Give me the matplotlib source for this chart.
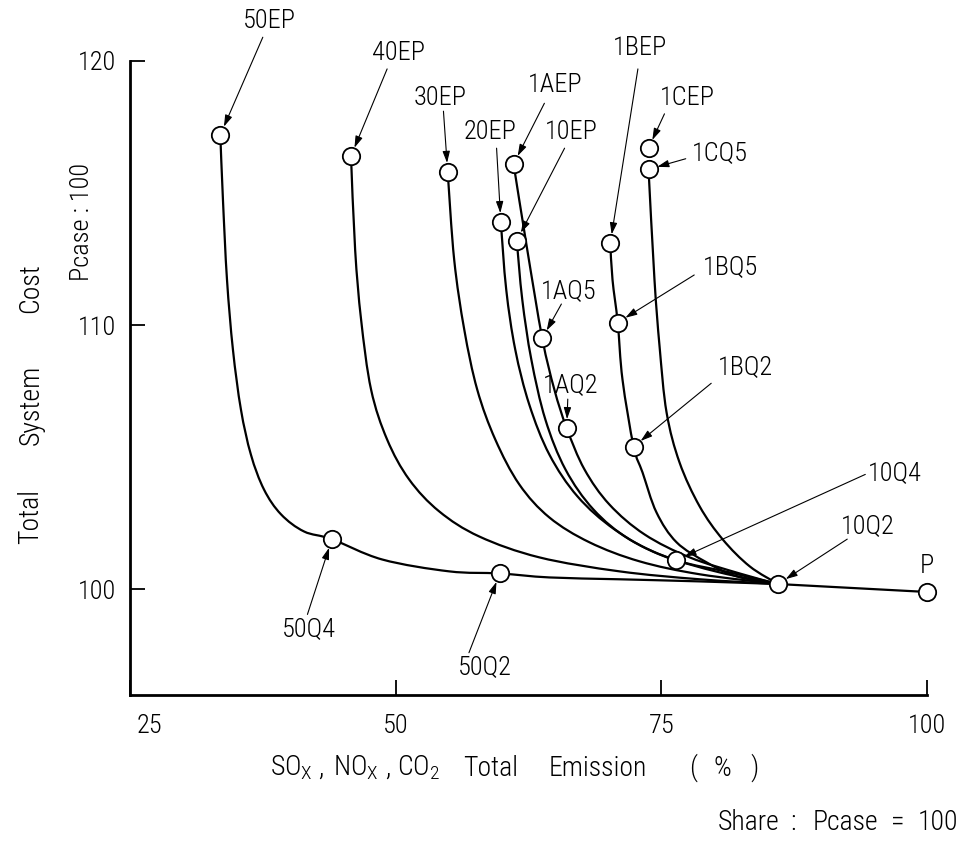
import matplotlib
matplotlib.use("Agg")
import matplotlib.pyplot as plt
from matplotlib import font_manager as fm
from matplotlib.path import Path
from matplotlib.patches import PathPatch
from matplotlib.transforms import ScaledTranslation


def pick_font():
    """Prefer a narrow sans; fall back to a condensed stretch of a common family."""
    entries = fm.fontManager.ttflist
    names = {e.name for e in entries}
    for fam in ["Liberation Sans Narrow", "Roboto Condensed", "Noto Sans Condensed",
                "Open Sans Condensed", "DejaVu Sans Condensed"]:
        if fam in names:
            return fam, "normal"
    for fam in ["Noto Sans", "DejaVu Sans", "Open Sans", "Roboto"]:
        for e in entries:
            if e.name == fam and "condensed" in str(e.stretch):
                return fam, str(e.stretch)
    return "DejaVu Sans", "normal"


FAMILY, STRETCH = pick_font()
plt.rcParams["font.family"] = [FAMILY, "DejaVu Sans"]
plt.rcParams["font.stretch"] = STRETCH
plt.rcParams["font.weight"] = "light"
plt.rcParams["mathtext.fontset"] = "custom"
plt.rcParams["mathtext.rm"] = f"{FAMILY}:stretch={STRETCH}:weight=light"
plt.rcParams["mathtext.it"] = f"{FAMILY}:stretch={STRETCH}:weight=light"
FS = 19

# ---- case points: (emission %, total cost) ----
case_names = ["50EP", "50Q4", "50Q2", "40EP", "30EP", "20EP", "1AEP", "10EP",
              "1BEP", "1CEP", "1CQ5", "1BQ5", "1BQ2", "1AQ5", "1AQ2",
              "10Q4", "10Q2", "P"]
case_x = [33.5, 44.0, 59.8, 45.8, 54.9, 59.9, 61.1, 61.4,
          70.2, 73.8, 73.8, 70.9, 72.4, 63.8, 66.1,
          76.4, 86.0, 100.0]
case_y = [117.2, 101.9, 100.6, 116.4, 115.8, 113.9, 116.1, 113.2,
          113.1, 116.7, 115.9, 110.1, 105.4, 109.5, 106.1,
          101.1, 100.2, 99.9]

# ---- trade-off curves ----
curve_50_x = [33.5, 33.75, 34.13, 34.69, 35.44, 36.38, 37.61, 39.21, 41.38, 44.0,
              48.73, 55.04, 59.8, 64.47, 71.07, 78.61, 86.0]
curve_50_y = [117.2, 114.74, 111.72, 109.07, 106.81, 105.10, 103.78, 102.84, 102.19, 101.9,
              101.13, 100.68, 100.6, 100.45, 100.38, 100.30, 100.2]
curve_40_x = [45.8, 46.19, 46.75, 47.69, 49.20, 51.27, 54.10, 57.87, 63.52, 71.07, 78.61, 86.0]
curve_40_y = [116.4, 112.85, 110.21, 107.56, 105.67, 104.16, 102.95, 102.00, 101.21, 100.68, 100.38, 100.2]
curve_30_x = [54.9, 55.51, 56.46, 57.68, 59.38, 61.64, 64.47, 68.24, 72.95, 78.61, 86.0]
curve_30_y = [115.8, 112.48, 109.83, 107.56, 105.67, 103.97, 102.72, 101.78, 101.06, 100.57, 100.2]
curve_20_x = [59.9, 60.41, 61.26, 62.58, 64.47, 67.11, 70.59, 74.84, 80.50, 86.0]
curve_20_y = [113.9, 111.34, 109.07, 106.99, 105.10, 103.52, 102.27, 101.32, 100.64, 100.2]
curve_10_x = [61.4, 61.92, 62.77, 64.09, 65.98, 68.62, 72.01, 76.4, 81.44, 86.0]
curve_10_y = [113.2, 110.96, 108.70, 106.43, 104.54, 103.02, 101.89, 101.1, 100.64, 100.2]
curve_1a_x = [61.1, 62.39, 63.8, 64.94, 66.1, 67.77, 70.12, 73.42, 77.67, 82.38, 86.0]
curve_1a_y = [116.1, 112.85, 109.5, 107.56, 106.1, 104.54, 103.21, 102.08, 101.21, 100.60, 100.2]
curve_1b_x = [70.2, 70.41, 70.9, 71.35, 72.4, 73.24, 74.55, 76.44, 79.27, 82.10, 86.0]
curve_1b_y = [113.1, 111.72, 110.1, 107.94, 105.4, 104.42, 102.91, 101.78, 101.02, 100.49, 100.2]
curve_1c_x = [73.8, 74.36, 74.84, 75.50, 76.72, 78.61, 80.78, 83.32, 86.0]
curve_1c_y = [115.9, 111.72, 109.19, 106.69, 104.80, 103.14, 101.89, 100.87, 100.2]
tail_x = [86.0, 100.0]
tail_y = [100.2, 99.9]

# ---- label placement: text centre and arrow tail (data units) ----
label_text_x = [38.1, 41.8, 58.4, 50.3, 54.2, 58.9, 65.0, 66.5,
                73.0, 77.5, 80.5, 81.5, 82.9, 66.3, 66.5,
                97.0, 94.4, 100.0]
label_text_y = [121.5, 98.5, 97.05, 120.3, 118.6, 117.3, 119.1, 117.3,
                120.5, 118.6, 116.5, 112.2, 108.4, 111.3, 107.75,
                104.4, 102.4, 100.9]
arrow_from_x = [37.5, 41.7, 56.9, 49.2, 54.5, 59.5, 64.0, 65.9,
                72.8, 75.3, 77.3, 78.1, 79.7, 65.6, 66.2,
                94.2, 92.5, None]
arrow_from_y = [120.9, 99.05, 97.6, 119.7, 118.1, 116.7, 118.4, 116.7,
                119.7, 118.0, 116.3, 111.9, 107.8, 110.8, 107.2,
                104.35, 101.9, None]

# ---- axis title pieces: text and centre position (figure fraction) ----
ytitle_words = ["Total", "System", "Cost"]
ytitle_pos = [0.389, 0.521, 0.660]
xtitle_words = [r"SO$_{\mathrm{X}}$", ",", r"NO$_{\mathrm{X}}$", ",", r"CO$_{2}$",
                "Total", "Emission", "(", "%", ")"]
xtitle_pos = [0.300, 0.331, 0.367, 0.400, 0.431, 0.506, 0.616, 0.715, 0.745, 0.778]
note_words = ["Share", ":", "Pcase", "=", "100"]
note_pos = [0.772, 0.818, 0.872, 0.926, 0.967]


def smooth_path(xs, ys):
    """Cubic Bezier path passing through every traced point (Catmull-Rom tangents)."""
    pts = list(zip(xs, ys))
    n = len(pts)
    verts, codes = [pts[0]], [Path.MOVETO]
    for i in range(n - 1):
        p0 = pts[i - 1] if i > 0 else pts[i]
        p1, p2 = pts[i], pts[i + 1]
        p3 = pts[i + 2] if i + 2 < n else pts[i + 1]
        c1 = (p1[0] + (p2[0] - p0[0]) / 6.0, p1[1] + (p2[1] - p0[1]) / 6.0)
        c2 = (p2[0] - (p3[0] - p1[0]) / 6.0, p2[1] - (p3[1] - p1[1]) / 6.0)
        verts += [c1, c2, p2]
        codes += [Path.CURVE4] * 3
    return Path(verts, codes)


fig = plt.figure(figsize=(9.70, 8.46), dpi=100)
ax = fig.add_axes([0.134, 0.1785, 0.8216, 0.7494])

curves = [(curve_50_x, curve_50_y), (curve_40_x, curve_40_y), (curve_30_x, curve_30_y),
          (curve_20_x, curve_20_y), (curve_10_x, curve_10_y), (curve_1a_x, curve_1a_y),
          (curve_1b_x, curve_1b_y), (curve_1c_x, curve_1c_y), (tail_x, tail_y)]
for cx, cy in curves:
    ax.add_patch(PathPatch(smooth_path(cx, cy), facecolor="none", edgecolor="black",
                           lw=1.6, capstyle="round", joinstyle="round", zorder=2))

ax.plot(case_x, case_y, linestyle="none", marker="o", markersize=12.5,
        markerfacecolor="white", markeredgecolor="black", markeredgewidth=1.3,
        zorder=4, clip_on=False)

for name, tx, ty, ax0, ay0, px, py in zip(case_names, label_text_x, label_text_y,
                                          arrow_from_x, arrow_from_y, case_x, case_y):
    ax.text(tx, ty, name, ha="center", va="center", fontsize=FS, clip_on=False)
    if ax0 is not None:
        ax.annotate("", xy=(px, py), xytext=(ax0, ay0), annotation_clip=False,
                    arrowprops=dict(arrowstyle="-|>,head_length=0.7,head_width=0.22",
                                    color="black", lw=0.8, shrinkA=0, shrinkB=6.5))

ax.set_xlim(25, 100)
ax.set_ylim(96, 120)
ax.set_xticks([25, 50, 75, 100])
ax.set_yticks([100, 110, 120])
ax.spines["top"].set_visible(False)
ax.spines["right"].set_visible(False)
for s in ("left", "bottom"):
    ax.spines[s].set_linewidth(2.0)
ax.tick_params(direction="in", length=11, width=1.3, labelsize=FS)
ax.tick_params(axis="y", pad=10)
ax.tick_params(axis="x", pad=14)
fig.canvas.draw()
first = ax.get_xticklabels()[0]
first.set_transform(first.get_transform() + ScaledTranslation(0.19, 0, fig.dpi_scale_trans))

for word, yc in zip(ytitle_words, ytitle_pos):
    fig.text(0.032, yc, word, rotation=90, ha="center", va="center", fontsize=FS + 1)
fig.text(0.085, 0.738, "Pcase : 100", rotation=90, ha="center", va="center", fontsize=FS)
for word, xc in zip(xtitle_words, xtitle_pos):
    fig.text(xc, 0.092, word, ha="center", va="center", fontsize=FS + 1)
for word, xc in zip(note_words, note_pos):
    fig.text(xc, 0.028, word, ha="center", va="center", fontsize=FS + 1)

fig.savefig("out.png", dpi=100)
